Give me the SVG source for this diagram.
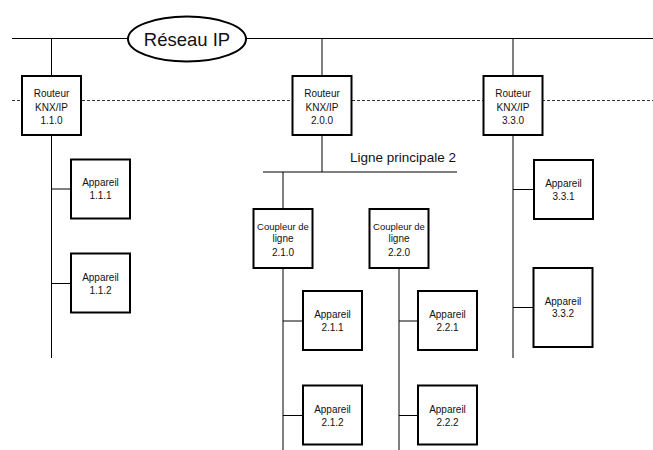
<svg xmlns="http://www.w3.org/2000/svg" width="653" height="450" viewBox="0 0 653 450">
<style>
.box{fill:#fff;stroke:#000;stroke-width:2}
.ln{stroke:#000;stroke-width:1;fill:none}
.dash{stroke:#333;stroke-width:1;stroke-dasharray:3,2;fill:none}
text{font-family:"Liberation Sans",Arial,sans-serif;font-size:10px;fill:#111;text-anchor:middle}
.cp{font-size:9.5px}
</style>
<rect width="653" height="450" fill="#fff"/>
<g id="connectors">
<line class="ln" x1="12" y1="38.5" x2="653" y2="38.5"/>
<line class="dash" x1="12" y1="100.5" x2="653" y2="100.5"/>
<line class="ln" x1="51.5" y1="38.5" x2="51.5" y2="358"/>
<line class="ln" x1="322" y1="38.5" x2="322" y2="172"/>
<line class="ln" x1="513" y1="38.5" x2="513" y2="358"/>
<line class="ln" x1="263" y1="172" x2="457" y2="172"/>
<line class="ln" x1="283" y1="172" x2="283" y2="450"/>
<line class="ln" x1="399" y1="268" x2="399" y2="450"/>
<line class="ln" x1="51.5" y1="189" x2="71" y2="189"/>
<line class="ln" x1="51.5" y1="283.5" x2="71" y2="283.5"/>
<line class="ln" x1="283" y1="321" x2="303" y2="321"/>
<line class="ln" x1="283" y1="415.5" x2="303" y2="415.5"/>
<line class="ln" x1="399" y1="321" x2="418" y2="321"/>
<line class="ln" x1="399" y1="415.5" x2="418" y2="415.5"/>
<line class="ln" x1="513" y1="189.5" x2="534" y2="189.5"/>
<line class="ln" x1="513" y1="307.5" x2="533.5" y2="307.5"/>
<text x="403" y="162" style="font-size:13.5px">Ligne principale 2</text>
</g>
<g id="reseau">
<ellipse cx="187" cy="39" rx="59" ry="22.5" fill="#fff" stroke="#000" stroke-width="2"/>
<text x="187" y="45.5" style="font-size:18.5px">Réseau IP</text>
</g>
<g id="r110"><rect class="box" x="22" y="76" width="59" height="59"/><text x="51.5" y="97">Routeur</text><text x="51.5" y="110.5">KNX/IP</text><text x="51.5" y="124">1.1.0</text></g>
<g id="r200"><rect class="box" x="292.5" y="76" width="59" height="59"/><text x="322" y="97">Routeur</text><text x="322" y="110.5">KNX/IP</text><text x="322" y="124">2.0.0</text></g>
<g id="r330"><rect class="box" x="483.5" y="76" width="59" height="59"/><text x="513" y="97">Routeur</text><text x="513" y="110.5">KNX/IP</text><text x="513" y="124">3.3.0</text></g>
<g id="a111"><rect class="box" x="71" y="159.5" width="59" height="59"/><text x="100.5" y="186">Appareil</text><text x="100.5" y="199">1.1.1</text></g>
<g id="a112"><rect class="box" x="71" y="253.5" width="59" height="59"/><text x="100.5" y="280.5">Appareil</text><text x="100.5" y="293.5">1.1.2</text></g>
<g id="c210"><rect class="box" x="253.5" y="209" width="59" height="59"/><text class="cp" x="283" y="229.5">Coupleur de</text><text x="283" y="242">ligne</text><text x="283" y="255.5">2.1.0</text></g>
<g id="c220"><rect class="box" x="369.5" y="209" width="59" height="59"/><text class="cp" x="399" y="229.5">Coupleur de</text><text x="399" y="242">ligne</text><text x="399" y="255.5">2.2.0</text></g>
<g id="a211"><rect class="box" x="303" y="291" width="59" height="59"/><text x="332.5" y="318">Appareil</text><text x="332.5" y="331">2.1.1</text></g>
<g id="a212"><rect class="box" x="303" y="385.5" width="59" height="59"/><text x="332.5" y="412.5">Appareil</text><text x="332.5" y="425.5">2.1.2</text></g>
<g id="a221"><rect class="box" x="418" y="291" width="59" height="59"/><text x="447.5" y="318">Appareil</text><text x="447.5" y="331">2.2.1</text></g>
<g id="a222"><rect class="box" x="418" y="385.5" width="59" height="59"/><text x="447.5" y="412.5">Appareil</text><text x="447.5" y="425.5">2.2.2</text></g>
<g id="a331"><rect class="box" x="534" y="160" width="59" height="59"/><text x="563.5" y="186.5">Appareil</text><text x="563.5" y="199.5">3.3.1</text></g>
<g id="a332"><rect class="box" x="533.5" y="268" width="59" height="79"/><text x="563" y="304.5">Appareil</text><text x="563" y="317">3.3.2</text></g>
</svg>
